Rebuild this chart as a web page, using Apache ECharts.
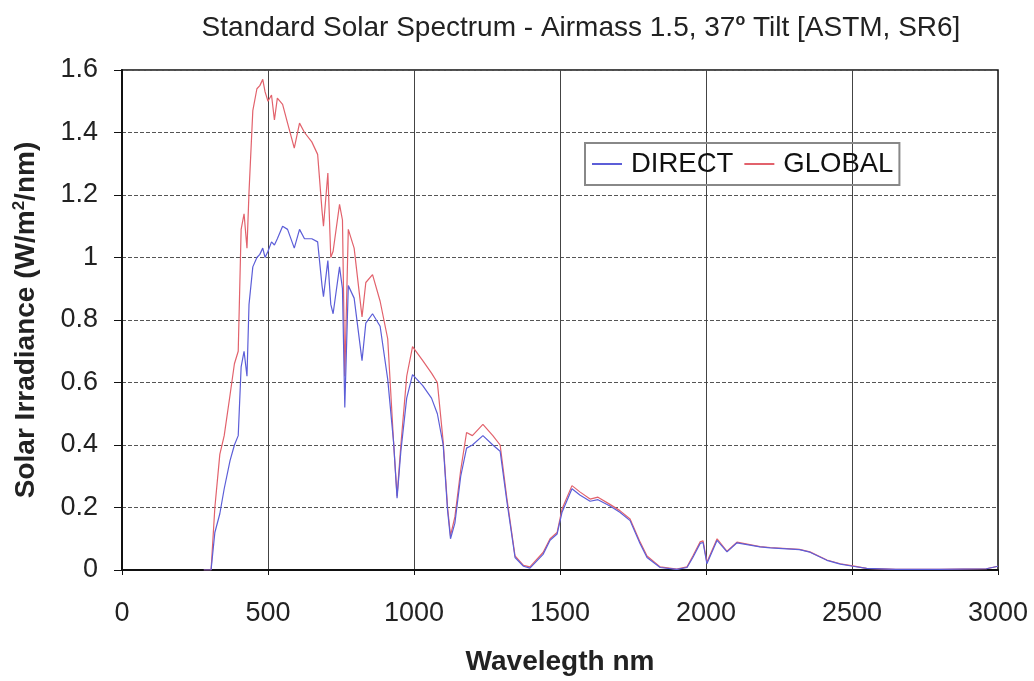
<!DOCTYPE html>
<html><head><meta charset="utf-8">
<script src="https://cdn.jsdelivr.net/npm/echarts@6/dist/echarts.min.js"></script>
<style>html,body{margin:0;padding:0;background:#fff}#c{width:1034px;height:681px}</style>
</head><body><div id="c"></div>
<script>
const wavelengths = [280,305,318,335,350,370,385,398,408,418,428,435,448,462,472,482,490,500,512,522,532,550,567,590,608,625,650,670,685,690,705,715,723,745,755,763,775,795,822,835,858,884,910,930,942,955,975,995,1030,1060,1080,1100,1115,1125,1140,1160,1180,1200,1236,1270,1295,1318,1346,1375,1397,1442,1466,1490,1507,1541,1568,1603,1630,1671,1705,1740,1774,1798,1843,1900,1935,1955,1980,1990,2003,2038,2072,2106,2185,2220,2320,2356,2414,2460,2503,2550,2650,2800,2960,3000];
const globalVals = [0,0,0.2,0.37,0.43,0.56,0.66,0.70,1.09,1.14,1.03,1.21,1.47,1.54,1.55,1.57,1.53,1.50,1.52,1.44,1.51,1.49,1.43,1.35,1.43,1.40,1.37,1.33,1.15,1.10,1.27,1.00,1.02,1.17,1.12,0.62,1.09,1.03,0.81,0.92,0.945,0.86,0.74,0.41,0.236,0.40,0.62,0.715,0.67,0.63,0.60,0.41,0.20,0.11,0.17,0.32,0.44,0.43,0.466,0.43,0.40,0.23,0.045,0.015,0.01,0.056,0.10,0.12,0.195,0.27,0.25,0.227,0.233,0.21,0.19,0.163,0.09,0.045,0.01,0.003,0.01,0.045,0.09,0.093,0.025,0.10,0.06,0.089,0.075,0.072,0.066,0.058,0.032,0.02,0.013,0.005,0.002,0.002,0.004,0.012];
const directVals = [0,0,0.12,0.18,0.26,0.35,0.40,0.43,0.65,0.70,0.62,0.85,0.97,1.00,1.01,1.03,1.00,1.02,1.05,1.04,1.06,1.10,1.09,1.03,1.09,1.06,1.06,1.05,0.91,0.875,0.99,0.85,0.82,0.97,0.90,0.52,0.91,0.87,0.67,0.79,0.82,0.78,0.61,0.41,0.23,0.38,0.55,0.625,0.59,0.55,0.50,0.40,0.19,0.10,0.15,0.30,0.39,0.40,0.43,0.40,0.38,0.22,0.04,0.012,0.006,0.05,0.095,0.115,0.185,0.26,0.24,0.22,0.225,0.205,0.185,0.158,0.085,0.04,0.008,0.002,0.008,0.04,0.085,0.088,0.02,0.095,0.058,0.087,0.074,0.071,0.065,0.057,0.031,0.019,0.012,0.005,0.002,0.002,0.004,0.012];
const seriesNames = ['DIRECT','GLOBAL'];
const xTicks = [0,500,1000,1500,2000,2500,3000];

const pairs = (vals) => wavelengths.map((w,i)=>[w,vals[i]]);
const chart = echarts.init(document.getElementById('c'), null, {renderer:'canvas'});
const FONT = '"Liberation Sans", Arial, sans-serif';
const FS = 27;
chart.setOption({
  animation:false,
  backgroundColor:'#fff',
  title:{
    text:'{t|Standard Solar Spectrum - Airmass 1.5, 37}{s|o}{t| Tilt [ASTM, SR6]}',
    left:576, top:8, textAlign:'center',
    textStyle:{rich:{
      t:{fontFamily:FONT,fontSize:28,color:'#222',fontWeight:'normal'},
      s:{fontFamily:FONT,fontSize:16,color:'#222',verticalAlign:'top',padding:[0,0,14,0]}
    }}
  },
  legend:{
    left:585, top:143, width:320, height:42,
    orient:'horizontal',
    data:seriesNames,
    borderColor:'#888', borderWidth:2,
    padding:[7,6,7,7],
    itemWidth:30, itemHeight:2, itemGap:11,
    icon:'rect',
    textStyle:{fontFamily:FONT,fontSize:27.5,color:'#111',padding:[0,0,0,4]}
  },
  grid:{left:122,right:36,top:70,bottom:110,show:true,borderColor:'#111',borderWidth:1.5},
  xAxis:{
    type:'value', min:0, max:3000, interval:500,
    name:'Wavelegth nm', nameLocation:'middle', nameGap:78,
    nameTextStyle:{fontFamily:FONT,fontSize:28,fontWeight:'bold',color:'#222'},
    axisLine:{lineStyle:{color:'#111',width:2}},
    axisTick:{show:true,length:5,lineStyle:{color:'#111'}},
    axisLabel:{fontFamily:FONT,fontSize:FS,color:'#222',margin:30,formatter:(v)=>String(v)},
    splitLine:{show:true,lineStyle:{color:'#444',width:1}}
  },
  yAxis:{
    type:'value', min:0, max:1.6, interval:0.2,
    name:'{a|Solar Irradiance (W/m}{s|2}{a|/nm)}', nameLocation:'middle', nameGap:80, nameRotate:90,
    nameTextStyle:{rich:{
      a:{fontFamily:FONT,fontSize:28,fontWeight:'bold',color:'#222'},
      s:{fontFamily:FONT,fontSize:17,fontWeight:'bold',color:'#222',verticalAlign:'top',padding:[0,0,14,0]}
    }},
    axisLine:{show:true,lineStyle:{color:'#111',width:2}},
    axisTick:{show:true,length:8,lineStyle:{color:'#111'}},
    axisLabel:{fontFamily:FONT,fontSize:FS,color:'#222',margin:24,
      formatter:(v)=>String(Math.round(v*10)/10)},
    splitLine:{show:true,lineStyle:{color:'#555',width:1,type:[4,2]}}
  },
  series:[
    {name:seriesNames[0],type:'line',data:pairs(directVals),showSymbol:false,symbol:'none',
     lineStyle:{color:'#5c5ed8',width:1.2},itemStyle:{color:'#5c5ed8'},z:3},
    {name:seriesNames[1],type:'line',data:pairs(globalVals),showSymbol:false,symbol:'none',
     lineStyle:{color:'#e2626c',width:1.2},itemStyle:{color:'#e2626c'},z:2}
  ]
});
</script></body></html>
